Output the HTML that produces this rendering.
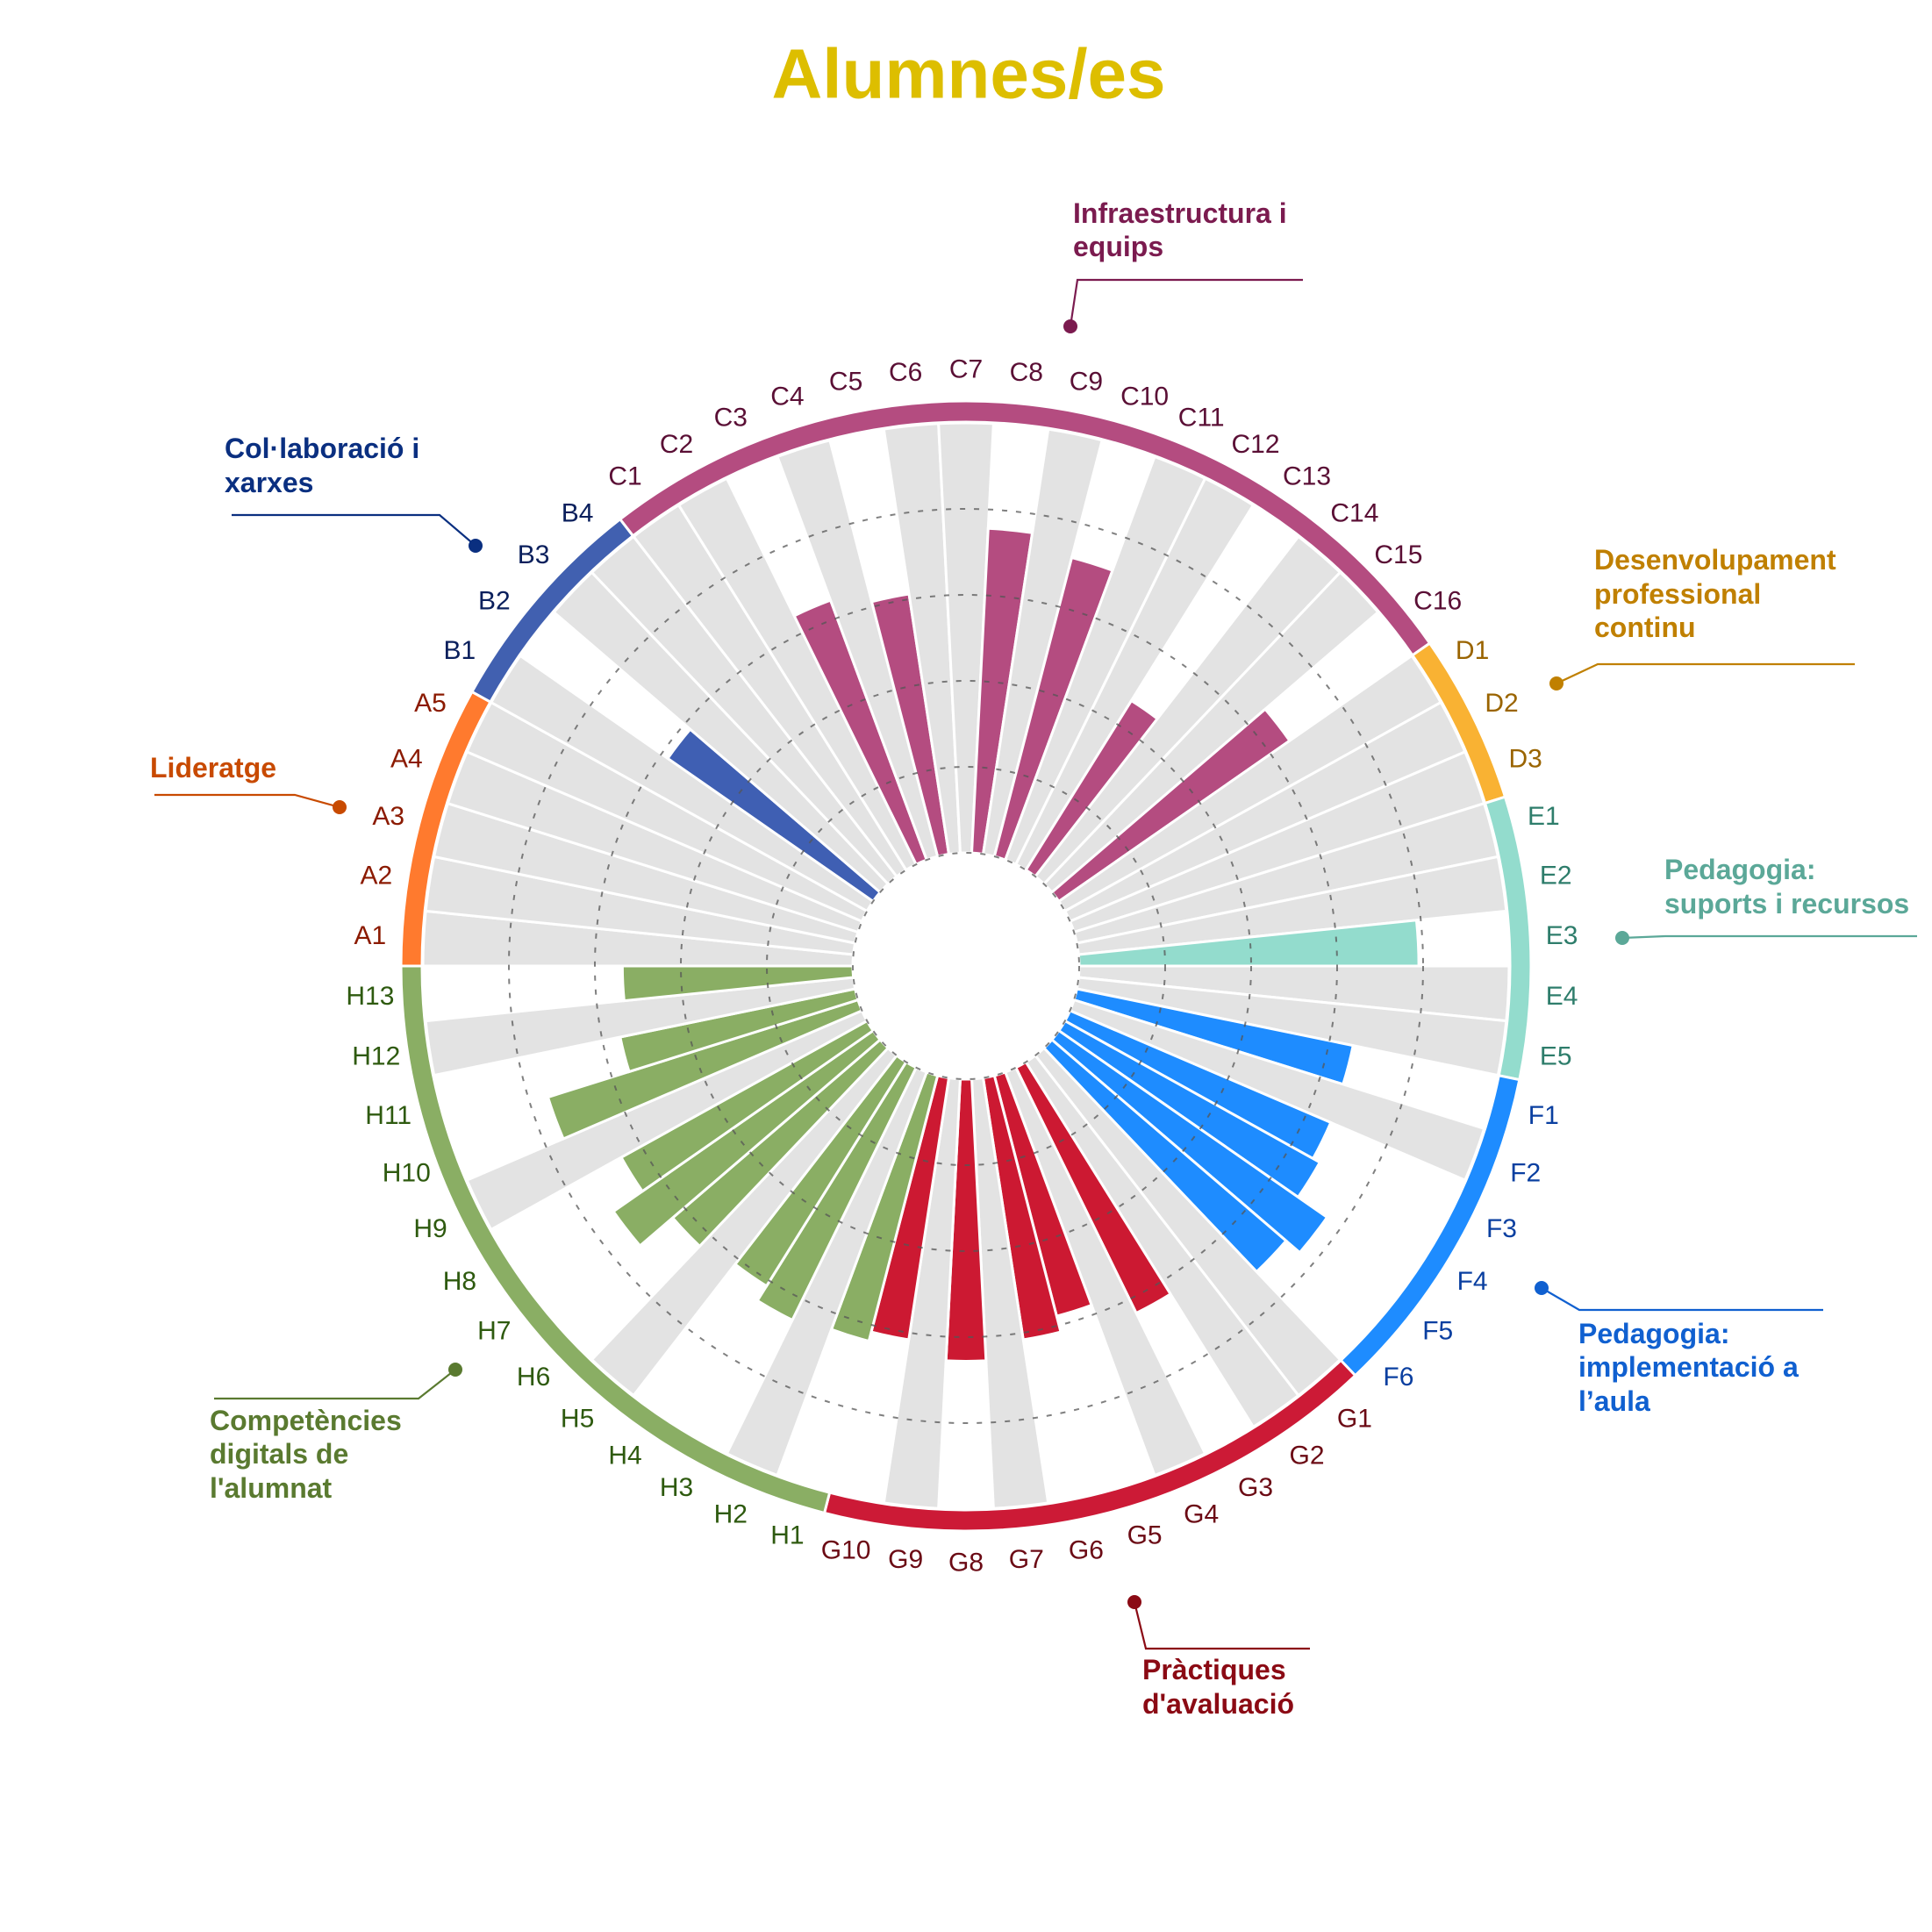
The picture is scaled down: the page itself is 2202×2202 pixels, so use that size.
<!DOCTYPE html>
<html><head><meta charset="utf-8"><style>
html,body{margin:0;padding:0;background:#fff;}
svg{display:block;}
.lbl{font-family:"Liberation Sans",sans-serif;font-size:30px;text-anchor:middle;dominant-baseline:central;}
.ann{font-family:"Liberation Sans",sans-serif;font-size:32px;font-weight:bold;dominant-baseline:central;}
</style></head><body>
<svg id="s" width="2202" height="2202" viewBox="0 0 2202 2202" xmlns="http://www.w3.org/2000/svg">
<rect width="2202" height="2202" fill="#fff"/>
<g id="bars"></g>
<g id="grid"></g>
<g id="ring"></g>
<text x="1104" y="84" font-family="Liberation Sans, sans-serif" font-size="80" font-weight="bold" fill="#DDBE00" text-anchor="middle" dominant-baseline="central">Alumnes/es</text>
<g id="labels">
<text class="lbl" fill="#8B1A00">A1</text><text class="lbl" fill="#8B1A00">A2</text><text class="lbl" fill="#8B1A00">A3</text><text class="lbl" fill="#8B1A00">A4</text><text class="lbl" fill="#8B1A00">A5</text>
<text class="lbl" fill="#0A1F5C">B1</text><text class="lbl" fill="#0A1F5C">B2</text><text class="lbl" fill="#0A1F5C">B3</text><text class="lbl" fill="#0A1F5C">B4</text>
<text class="lbl" fill="#5A0F35">C1</text><text class="lbl" fill="#5A0F35">C2</text><text class="lbl" fill="#5A0F35">C3</text><text class="lbl" fill="#5A0F35">C4</text><text class="lbl" fill="#5A0F35">C5</text><text class="lbl" fill="#5A0F35">C6</text><text class="lbl" fill="#5A0F35">C7</text><text class="lbl" fill="#5A0F35">C8</text><text class="lbl" fill="#5A0F35">C9</text><text class="lbl" fill="#5A0F35">C10</text><text class="lbl" fill="#5A0F35">C11</text><text class="lbl" fill="#5A0F35">C12</text><text class="lbl" fill="#5A0F35">C13</text><text class="lbl" fill="#5A0F35">C14</text><text class="lbl" fill="#5A0F35">C15</text><text class="lbl" fill="#5A0F35">C16</text>
<text class="lbl" fill="#9A6400">D1</text><text class="lbl" fill="#9A6400">D2</text><text class="lbl" fill="#9A6400">D3</text>
<text class="lbl" fill="#2E7D6B">E1</text><text class="lbl" fill="#2E7D6B">E2</text><text class="lbl" fill="#2E7D6B">E3</text><text class="lbl" fill="#2E7D6B">E4</text><text class="lbl" fill="#2E7D6B">E5</text>
<text class="lbl" fill="#0A3FA0">F1</text><text class="lbl" fill="#0A3FA0">F2</text><text class="lbl" fill="#0A3FA0">F3</text><text class="lbl" fill="#0A3FA0">F4</text><text class="lbl" fill="#0A3FA0">F5</text><text class="lbl" fill="#0A3FA0">F6</text>
<text class="lbl" fill="#6B0A14">G1</text><text class="lbl" fill="#6B0A14">G2</text><text class="lbl" fill="#6B0A14">G3</text><text class="lbl" fill="#6B0A14">G4</text><text class="lbl" fill="#6B0A14">G5</text><text class="lbl" fill="#6B0A14">G6</text><text class="lbl" fill="#6B0A14">G7</text><text class="lbl" fill="#6B0A14">G8</text><text class="lbl" fill="#6B0A14">G9</text><text class="lbl" fill="#6B0A14">G10</text>
<text class="lbl" fill="#2E5A0F">H1</text><text class="lbl" fill="#2E5A0F">H2</text><text class="lbl" fill="#2E5A0F">H3</text><text class="lbl" fill="#2E5A0F">H4</text><text class="lbl" fill="#2E5A0F">H5</text><text class="lbl" fill="#2E5A0F">H6</text><text class="lbl" fill="#2E5A0F">H7</text><text class="lbl" fill="#2E5A0F">H8</text><text class="lbl" fill="#2E5A0F">H9</text><text class="lbl" fill="#2E5A0F">H10</text><text class="lbl" fill="#2E5A0F">H11</text><text class="lbl" fill="#2E5A0F">H12</text><text class="lbl" fill="#2E5A0F">H13</text>
</g>
<g fill="none" stroke-width="2.2">
<polyline points="1485,319 1228,319 1220,372" stroke="#7B1B4F"/>
<polyline points="264,587 501,587 542,622" stroke="#0A2F80"/>
<polyline points="176,906 336,906 387,920" stroke="#C84A00"/>
<polyline points="2114,757 1821,757 1774,779" stroke="#C08000"/>
<polyline points="2185,1067 1898,1067 1849,1069" stroke="#5BA898"/>
<polyline points="2078,1493 1800,1493 1757,1468" stroke="#1060D0"/>
<polyline points="1493,1879 1306,1879 1293,1826" stroke="#8B0A14"/>
<polyline points="244,1594 477,1594 519,1561" stroke="#5A7A30"/>
</g>
<circle cx="1220" cy="372" r="8" fill="#7B1B4F"/>
<circle cx="542" cy="622" r="8" fill="#0A2F80"/>
<circle cx="387" cy="920" r="8" fill="#C84A00"/>
<circle cx="1774" cy="779" r="8" fill="#C08000"/>
<circle cx="1849" cy="1069" r="8" fill="#5BA898"/>
<circle cx="1757" cy="1468" r="8" fill="#1060D0"/>
<circle cx="1293" cy="1826" r="8" fill="#8B0A14"/>
<circle cx="519" cy="1561" r="8" fill="#5A7A30"/>
<text class="ann" fill="#7B1B4F" x="1231" y="243">Infraestructura i</text>
<text class="ann" fill="#7B1B4F" x="1231" y="281">equips</text>
<text class="ann" fill="#0A2F80" x="264" y="511">Col·laboració i</text>
<text class="ann" fill="#0A2F80" x="264" y="550">xarxes</text>
<text class="ann" fill="#C84A00" x="179" y="875">Lideratge</text>
<text class="ann" fill="#C08000" x="1825" y="638">Desenvolupament</text>
<text class="ann" fill="#C08000" x="1825" y="677">professional</text>
<text class="ann" fill="#C08000" x="1825" y="715">continu</text>
<text class="ann" fill="#5BA898" x="1905" y="991">Pedagogia:</text>
<text class="ann" fill="#5BA898" x="1905" y="1030">suports i recursos</text>
<text class="ann" fill="#1060D0" x="1807" y="1520">Pedagogia:</text>
<text class="ann" fill="#1060D0" x="1807" y="1558">implementació a</text>
<text class="ann" fill="#1060D0" x="1807" y="1597">l’aula</text>
<text class="ann" fill="#8B0A14" x="1310" y="1903">Pràctiques</text>
<text class="ann" fill="#8B0A14" x="1310" y="1942">d'avaluació</text>
<text class="ann" fill="#5A7A30" x="247" y="1619">Competències</text>
<text class="ann" fill="#5A7A30" x="247" y="1657">digitals de</text>
<text class="ann" fill="#5A7A30" x="247" y="1696">l'alumnat</text>
</svg>
<script>
(function(){
var NS="http://www.w3.org/2000/svg";
var cx=1101,cy=1101,N=62,a=2*Math.PI/N,r0=129,st=98;
function P(r,t){return (cx+r*Math.cos(t)).toFixed(2)+","+(cy+r*Math.sin(t)).toFixed(2);}
function wedge(r1,r2,t1,t2){
 return "M"+P(r1,t1)+"L"+P(r2,t1)+"A"+r2+","+r2+" 0 0 1 "+P(r2,t2)+"L"+P(r1,t2)+"A"+r1+","+r1+" 0 0 0 "+P(r1,t1)+"Z";}
function add(g,tag,attrs){var e=document.createElementNS(NS,tag);for(var k in attrs)e.setAttribute(k,attrs[k]);g.appendChild(e);return e;}
var counts=[5,4,16,3,5,6,10,13];
var ringC=["#FF7A2E","#4160B0","#B44C80","#F9B233","#93DCCD","#1E8CFF","#CC1A36","#8AAE64"];
var barC=["#FF7A2E","#3F5FB3","#B44C80","#F9B233","#93DCCD","#1E8CFF","#CC1932","#8AAE64"];
var vals=[0,0,0,0,0,
 0,2.91,0,0,
 0,0,3.22,0,3.06,0,0,3.78,0,3.59,0,0,2.32,0,0,3.27,
 0,0,0,
 0,0,3.95,0,0,
 3.28,0,3.3,3.39,3.8,3.59,
 0,0,3.18,0,2.89,3.08,0,3.28,0,3.08,
 3.19,0,3.27,3.07,0,3.18,3.68,3.27,0,3.78,2.79,0,2.68];
var gi=[];counts.forEach(function(c,g){for(var k=0;k<c;k++)gi.push(g);});
var bars=document.getElementById("bars");
for(var i=0;i<N;i++){
 var t1=Math.PI+i*a,t2=t1+a,v=vals[i];
 if(v===0) add(bars,"path",{d:wedge(r0,619,t1,t2),fill:"#E3E3E3",stroke:"#fff","stroke-width":"3"});
 else add(bars,"path",{d:wedge(r0,r0+st*v,t1,t2),fill:barC[gi[i]],stroke:"#fff","stroke-width":"3"});
}
var grid=document.getElementById("grid");
[129,227,325,423,521].forEach(function(r){add(grid,"circle",{cx:cx,cy:cy,r:r,fill:"none",stroke:"#555","stroke-width":"2","stroke-dasharray":"6,10",opacity:"0.75"});});
var ring=document.getElementById("ring");var s=0;
counts.forEach(function(c,g){add(ring,"path",{d:wedge(620,644,Math.PI+s*a,Math.PI+(s+c)*a),fill:ringC[g],stroke:"#fff","stroke-width":"3"});s+=c;});
var lbls=document.getElementById("labels").getElementsByTagName("text");
for(var j=0;j<lbls.length;j++){var t=Math.PI+(j+0.5)*a;lbls[j].setAttribute("x",(cx+680*Math.cos(t)).toFixed(1));lbls[j].setAttribute("y",(cy+680*Math.sin(t)).toFixed(1));}
})();
document.querySelectorAll(".ann").forEach(function(e){e.setAttribute("x",(parseFloat(e.getAttribute("x"))-8).toString());});
</script>
</body></html>
